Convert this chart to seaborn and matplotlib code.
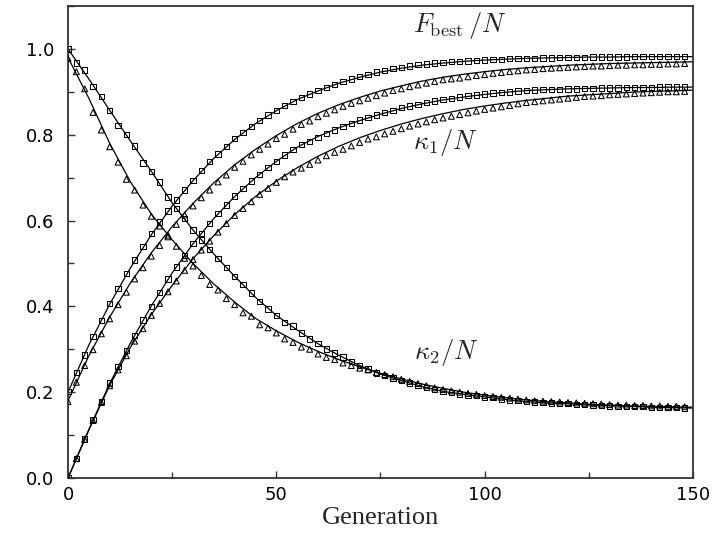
import numpy as np
import pandas as pd
import matplotlib
matplotlib.use("Agg")
import matplotlib.pyplot as plt
import seaborn as sns
from matplotlib.ticker import MultipleLocator

# ---------------- data ----------------
# simulation points, every 2 generations (0 .. 148)
fbest_sq = [0.202, 0.246, 0.287, 0.330, 0.367, 0.407, 0.441, 0.476, 0.508, 0.539,
            0.570, 0.597, 0.622, 0.648, 0.671, 0.694, 0.717, 0.738, 0.755, 0.773,
            0.791, 0.805, 0.819, 0.833, 0.846, 0.857, 0.868, 0.878, 0.887, 0.895,
            0.903, 0.910, 0.917, 0.924, 0.930, 0.935, 0.941, 0.946, 0.950, 0.954,
            0.957, 0.960, 0.963, 0.965, 0.967, 0.969, 0.970, 0.971, 0.972, 0.973,
            0.974, 0.975, 0.976, 0.977, 0.977, 0.978, 0.978, 0.979, 0.979, 0.980,
            0.980, 0.980, 0.980, 0.981, 0.981, 0.981, 0.981, 0.981, 0.982, 0.982,
            0.982, 0.982, 0.982, 0.982, 0.982]
fbest_tr = [0.178, 0.223, 0.262, 0.299, 0.336, 0.371, 0.404, 0.433, 0.464, 0.490,
            0.517, 0.542, 0.566, 0.591, 0.613, 0.634, 0.653, 0.671, 0.690, 0.706,
            0.724, 0.738, 0.753, 0.766, 0.778, 0.791, 0.801, 0.813, 0.824, 0.832,
            0.842, 0.850, 0.858, 0.866, 0.873, 0.879, 0.885, 0.891, 0.897, 0.903,
            0.907, 0.912, 0.916, 0.920, 0.924, 0.928, 0.930, 0.932, 0.935, 0.938,
            0.940, 0.943, 0.945, 0.947, 0.949, 0.951, 0.952, 0.954, 0.955, 0.956,
            0.957, 0.958, 0.959, 0.960, 0.960, 0.961, 0.962, 0.962, 0.963, 0.963,
            0.964, 0.964, 0.965, 0.965, 0.966]
k1_sq = [0.000, 0.046, 0.091, 0.136, 0.178, 0.221, 0.260, 0.297, 0.332, 0.368,
         0.400, 0.433, 0.464, 0.492, 0.519, 0.547, 0.570, 0.593, 0.616, 0.636,
         0.657, 0.675, 0.692, 0.708, 0.724, 0.738, 0.753, 0.766, 0.777, 0.784,
         0.794, 0.803, 0.811, 0.819, 0.826, 0.834, 0.840, 0.846, 0.852, 0.857,
         0.863, 0.867, 0.871, 0.875, 0.879, 0.882, 0.885, 0.888, 0.891, 0.893,
         0.895, 0.897, 0.899, 0.900, 0.902, 0.903, 0.904, 0.905, 0.906, 0.906,
         0.907, 0.907, 0.908, 0.908, 0.909, 0.909, 0.909, 0.910, 0.910, 0.910,
         0.910, 0.911, 0.911, 0.911, 0.911]
k1_tr = [0.000, 0.045, 0.090, 0.134, 0.176, 0.215, 0.252, 0.285, 0.319, 0.348,
         0.379, 0.407, 0.434, 0.459, 0.484, 0.509, 0.531, 0.552, 0.573, 0.593,
         0.612, 0.628, 0.644, 0.661, 0.675, 0.689, 0.702, 0.713, 0.722, 0.731,
         0.741, 0.751, 0.759, 0.766, 0.774, 0.782, 0.790, 0.795, 0.802, 0.808,
         0.814, 0.820, 0.825, 0.830, 0.835, 0.839, 0.843, 0.847, 0.851, 0.855,
         0.859, 0.862, 0.865, 0.868, 0.872, 0.875, 0.877, 0.879, 0.881, 0.883,
         0.885, 0.887, 0.889, 0.890, 0.891, 0.893, 0.894, 0.895, 0.896, 0.897,
         0.898, 0.899, 0.900, 0.900, 0.901]
k2_sq = [1.000, 0.967, 0.951, 0.913, 0.889, 0.857, 0.821, 0.800, 0.774, 0.734,
         0.714, 0.690, 0.655, 0.628, 0.605, 0.578, 0.555, 0.533, 0.512, 0.491,
         0.470, 0.451, 0.431, 0.412, 0.394, 0.379, 0.363, 0.354, 0.338, 0.324,
         0.313, 0.301, 0.291, 0.282, 0.272, 0.262, 0.254, 0.245, 0.239, 0.233,
         0.227, 0.221, 0.216, 0.211, 0.206, 0.202, 0.199, 0.196, 0.193, 0.192,
         0.189, 0.187, 0.184, 0.182, 0.181, 0.178, 0.177, 0.176, 0.175, 0.174,
         0.173, 0.172, 0.171, 0.170, 0.169, 0.168, 0.167, 0.167, 0.166, 0.166,
         0.165, 0.165, 0.164, 0.164, 0.163]
k2_tr = [0.978, 0.947, 0.907, 0.852, 0.811, 0.772, 0.736, 0.696, 0.671, 0.636,
         0.610, 0.587, 0.562, 0.540, 0.512, 0.494, 0.472, 0.451, 0.438, 0.418,
         0.404, 0.385, 0.377, 0.357, 0.350, 0.338, 0.324, 0.316, 0.305, 0.300,
         0.289, 0.281, 0.276, 0.268, 0.262, 0.256, 0.252, 0.246, 0.241, 0.236,
         0.230, 0.225, 0.220, 0.215, 0.210, 0.206, 0.203, 0.200, 0.197, 0.195,
         0.192, 0.190, 0.188, 0.186, 0.184, 0.182, 0.180, 0.179, 0.178, 0.177,
         0.176, 0.175, 0.174, 0.173, 0.172, 0.171, 0.170, 0.170, 0.169, 0.169,
         0.168, 0.168, 0.167, 0.167, 0.166]

# theory curves, every 5 generations (0 .. 150)
fbest_sq_th = [0.200, 0.310, 0.405, 0.490, 0.567, 0.634, 0.693, 0.745, 0.789, 0.826,
               0.856, 0.882, 0.902, 0.920, 0.934, 0.946, 0.955, 0.962, 0.967, 0.971,
               0.974, 0.976, 0.978, 0.979, 0.980, 0.981, 0.981, 0.982, 0.982, 0.982, 0.982]
fbest_tr_th = [0.180, 0.285, 0.375, 0.455, 0.525, 0.586, 0.640, 0.688, 0.730, 0.766,
               0.798, 0.826, 0.850, 0.870, 0.887, 0.902, 0.914, 0.925, 0.934, 0.941,
               0.947, 0.952, 0.956, 0.959, 0.962, 0.964, 0.966, 0.967, 0.968, 0.969, 0.970]
k1_sq_th = [0.000, 0.113, 0.220, 0.315, 0.401, 0.478, 0.546, 0.605, 0.656, 0.700,
            0.738, 0.771, 0.796, 0.816, 0.833, 0.848, 0.861, 0.872, 0.881, 0.888,
            0.894, 0.899, 0.903, 0.905, 0.907, 0.908, 0.909, 0.910, 0.910, 0.911, 0.911]
k1_tr_th = [0.000, 0.112, 0.216, 0.305, 0.381, 0.449, 0.511, 0.565, 0.614, 0.656,
            0.692, 0.723, 0.750, 0.773, 0.793, 0.810, 0.825, 0.838, 0.849, 0.859,
            0.867, 0.874, 0.880, 0.885, 0.890, 0.893, 0.896, 0.899, 0.901, 0.902, 0.904]
k2_sq_th = [1.000, 0.930, 0.857, 0.785, 0.715, 0.641, 0.578, 0.522, 0.470, 0.421,
            0.379, 0.345, 0.313, 0.286, 0.262, 0.242, 0.227, 0.213, 0.202, 0.195,
            0.189, 0.183, 0.178, 0.175, 0.173, 0.170, 0.168, 0.167, 0.165, 0.164, 0.163]
k2_tr_th = [0.980, 0.885, 0.780, 0.690, 0.615, 0.555, 0.500, 0.452, 0.410, 0.372,
            0.343, 0.317, 0.295, 0.276, 0.259, 0.244, 0.231, 0.219, 0.209, 0.200,
            0.193, 0.187, 0.182, 0.178, 0.175, 0.172, 0.170, 0.168, 0.167, 0.166, 0.165]

curve_labels = [r"$F_{\rm best}\,/N$", r"$\kappa_1/N$", r"$\kappa_2/N$"]
label_pos = [(82.8, 1.054), (82.8, 0.783), (83.0, 0.292)]

y_ticks = [0.0, 0.2, 0.4, 0.6, 0.8, 1.0]
x_ticks = [0, 50, 100, 150]

# ---------------- figure ----------------
sns.set_style("ticks")
plt.rcParams["font.family"] = ["DejaVu Sans"]
plt.rcParams["mathtext.fontset"] = "cm"

fig = plt.figure(figsize=(7.19, 5.36), dpi=100)
ax = fig.add_axes([0.0946, 0.1082, 0.8692, 0.8806])

def gens(vals, step):
    return np.arange(len(vals)) * step

for th in [fbest_sq_th, fbest_tr_th, k1_sq_th, k1_tr_th, k2_sq_th, k2_tr_th]:
    sns.lineplot(x=gens(th, 5), y=th, ax=ax, color="black", linewidth=0.9,
                 estimator=None, sort=False, zorder=2)

for vals, mk, ms in [(fbest_sq, "s", 15), (k1_sq, "s", 15), (k2_sq, "s", 15),
                     (fbest_tr, "^", 18), (k1_tr, "^", 18), (k2_tr, "^", 18)]:
    sns.scatterplot(x=gens(vals, 2), y=vals, ax=ax, marker=mk, s=ms,
                    facecolor="none", edgecolor="black", linewidth=0.75, zorder=3)

ax.set_xlim(0, 150)
ax.set_ylim(0, 1.1)
ax.set_xticks(x_ticks)
ax.set_yticks(y_ticks)
ax.set_yticklabels([f"{v:.1f}" for v in y_ticks])
ax.xaxis.set_minor_locator(MultipleLocator(25))
ax.yaxis.set_minor_locator(MultipleLocator(0.1))
ax.tick_params(which="both", direction="in", top=False, right=False,
               labelsize=13, colors="#333333", labelcolor="black", width=1.0)
ax.tick_params(which="major", length=5, pad=10)
ax.tick_params(which="minor", length=4)
ax.tick_params(axis="x", which="major", pad=6)

for sp in ax.spines.values():
    sp.set_visible(True)
    sp.set_color("#333333")
    sp.set_linewidth(1.3)

ax.set_xlabel("Generation", family="Liberation Serif", fontsize=19, labelpad=2)
ax.set_ylabel("")

for txt, (x, y) in zip(curve_labels, label_pos):
    ax.text(x, y, txt, fontsize=19, ha="left", va="center")

fig.savefig("out.png", dpi=100)
